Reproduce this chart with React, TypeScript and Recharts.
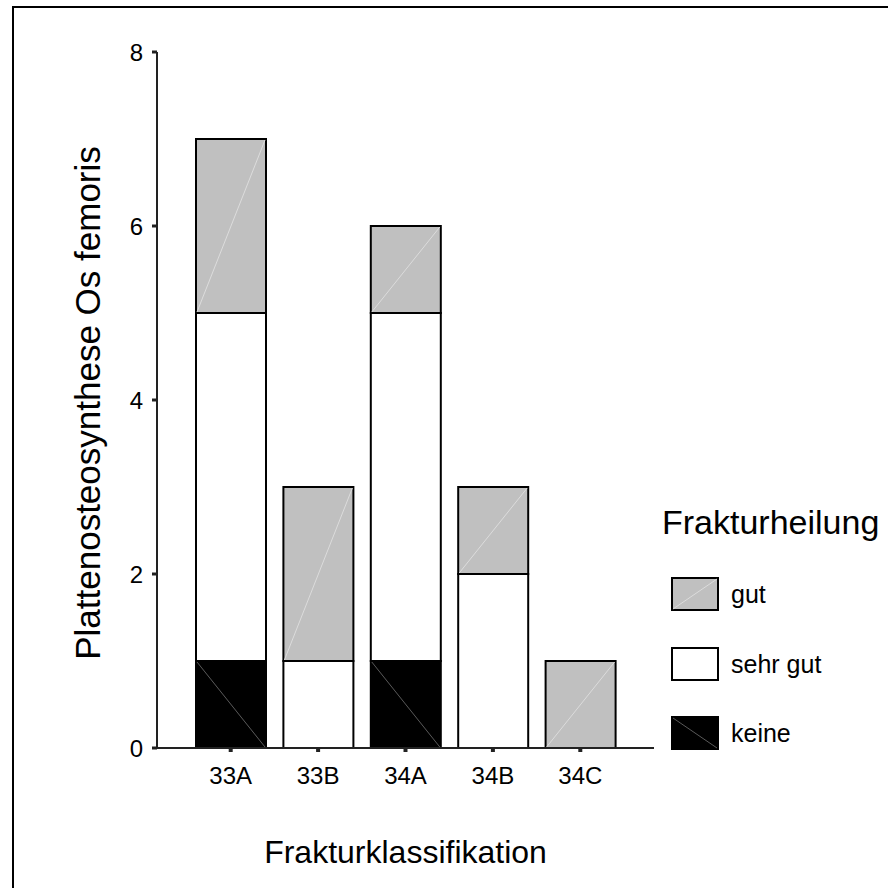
import { Bar, BarChart, Label, XAxis, YAxis } from "recharts"

const categories = ["33A", "33B", "34A", "34B", "34C"]
const keine = [1, 0, 1, 0, 0]
const sehrGut = [4, 1, 4, 2, 0]
const gut = [2, 2, 1, 1, 1]
const yTicks = [0, 2, 4, 6, 8]

const GRAY = "#c0c0c0"
const FONT = "'Liberation Sans', Arial, sans-serif"

const rows = categories.map((name, i) => ({
  name,
  keine: keine[i],
  sehrGut: sehrGut[i],
  gut: gut[i],
}))

const series = [
  { key: "gut", label: "gut", fill: GRAY, diag: "up", diagColor: "#dcdcdc" },
  { key: "sehrGut", label: "sehr gut", fill: "#ffffff", diag: null, diagColor: "" },
  { key: "keine", label: "keine", fill: "#000000", diag: "down", diagColor: "#5a5a5a" },
]

function makeShape(fill: string, diag: string | null, diagColor: string) {
  return (props: any) => {
    const { x, y, width, height } = props
    if (!height || height <= 0) return <g />
    return (
      <g>
        <rect x={x} y={y} width={width} height={height} fill={fill} stroke="#000" strokeWidth={2} />
        {diag === "up" && (
          <line x1={x + 1} y1={y + height - 1} x2={x + width - 1} y2={y + 1} stroke={diagColor} strokeWidth={1} />
        )}
        {diag === "down" && (
          <line x1={x + 1} y1={y + 1} x2={x + width - 1} y2={y + height - 1} stroke={diagColor} strokeWidth={1} />
        )}
      </g>
    )
  }
}

function Swatch({ fill, diag, diagColor }: { fill: string; diag: string | null; diagColor: string }) {
  return (
    <svg width={48} height={34} style={{ display: "block" }}>
      <rect x={1} y={1} width={46} height={32} fill={fill} stroke="#000" strokeWidth={2} />
      {diag === "up" && <line x1={2} y1={32} x2={46} y2={2} stroke={diagColor} />}
      {diag === "down" && <line x1={2} y1={2} x2={46} y2={32} stroke={diagColor} />}
    </svg>
  )
}

function LegendBox() {
  return (
    <div style={{ position: "absolute", left: 662, top: 505, width: 226, height: 260, fontFamily: FONT, color: "#000" }}>
      <div style={{ position: "absolute", left: 0, top: 0, fontSize: 34, lineHeight: "34px", whiteSpace: "nowrap" }}>
        Frakturheilung
      </div>
      {series.map((s, i) => (
        <div
          key={s.key}
          style={{
            position: "absolute",
            left: 9,
            top: 72 + i * 69.5,
            display: "flex",
            alignItems: "center",
            gap: 12,
            whiteSpace: "nowrap",
          }}
        >
          <Swatch fill={s.fill} diag={s.diag} diagColor={s.diagColor} />
          <span style={{ fontSize: 25, lineHeight: "34px" }}>{s.label}</span>
        </div>
      ))}
    </div>
  )
}

export default function App() {
  return (
    <div style={{ position: "fixed", left: 0, top: 0, width: 888, height: 888, background: "#fff", overflow: "hidden" }}>
      <div
        style={{
          position: "absolute",
          left: 12,
          top: 6,
          right: -20,
          bottom: -20,
          border: "2px solid #000",
        }}
      />
      <div style={{ position: "absolute", left: 0, top: 0 }}>
        <BarChart
          width={888}
          height={888}
          data={rows}
          margin={{ top: 52, right: 234, left: 0, bottom: 0 }}
          style={{ fontFamily: FONT }}
        >
          <YAxis
            type="number"
            domain={[0, 8]}
            ticks={yTicks}
            width={157}
            axisLine={{ stroke: "#222", strokeWidth: 2 }}
            tickLine={{ stroke: "#222", strokeWidth: 3 }}
            tickSize={5}
            tickMargin={9}
            tick={{ fill: "#000", fontSize: 24 }}
          >
            <Label
              content={(p: any) => {
                const vb = p.viewBox || { y: 52, height: 696 }
                const cy = vb.y + vb.height / 2 + 3
                return (
                  <text
                    x={87}
                    y={cy}
                    transform={`rotate(-90 87 ${cy})`}
                    textAnchor="middle"
                    dominantBaseline="central"
                    fontSize={35}
                    fill="#000"
                    fontFamily={FONT}
                  >
                    Plattenosteosynthese Os femoris
                  </text>
                )
              }}
            />
          </YAxis>
          <XAxis
            dataKey="name"
            height={140}
            padding={{ left: 30, right: 30 }}
            axisLine={{ stroke: "#222", strokeWidth: 2 }}
            tickLine={{ stroke: "#222", strokeWidth: 4 }}
            tickSize={4}
            tickMargin={15}
            tick={{ fill: "#000", fontSize: 24 }}
          >
            <Label value="Frakturklassifikation" position="insideBottom" offset={25} fontSize={32} fill="#000" />
          </XAxis>
          {[...series].reverse().map((s) => (
            <Bar
              key={s.key}
              dataKey={s.key}
              name={s.label}
              stackId="a"
              fill={s.fill}
              barSize={70}
              shape={makeShape(s.fill, s.diag, s.diagColor)}
              isAnimationActive={false}
            />
          ))}
        </BarChart>
      </div>
      <LegendBox />
    </div>
  )
}
